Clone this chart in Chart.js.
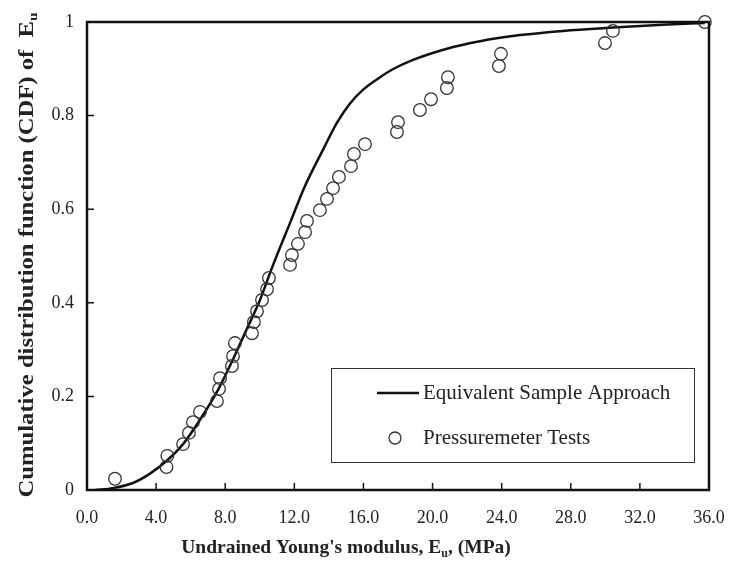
<!DOCTYPE html>
<html>
<head>
<meta charset="utf-8">
<script src="https://cdn.jsdelivr.net/npm/chart.js@4"></script>
<style>
    html, body { margin: 0; padding: 0; background: #fff; }
    #wrap { width: 731px; height: 565px; }
</style>
</head>
<body>
<div id="wrap"><canvas id="cdfChart" width="731" height="565"></canvas></div>
<script>
// Equivalent Sample Approach (curve)
const esaX = [0.5, 1.5, 2.66, 3.65, 4.63, 5.56, 6.54, 7.6, 8.5, 9.2, 10.0, 10.76, 11.8, 12.56, 13.7, 14.47, 15.2, 16.0, 16.96, 17.7, 18.87, 20.83, 22.74, 25.06, 27.55, 30.44, 33.33, 35.76];
const esaY = [0, 0.004, 0.015, 0.035, 0.063, 0.098, 0.15, 0.215, 0.283, 0.34, 0.405, 0.48, 0.575, 0.645, 0.73, 0.785, 0.825, 0.856, 0.882, 0.899, 0.919, 0.943, 0.959, 0.972, 0.981, 0.988, 0.994, 0.998];

// Pressuremeter tests (circles)
const pmtX = [1.62, 4.6, 4.65, 5.56, 5.9, 6.13, 6.54, 7.52, 7.64, 7.7, 8.39, 8.45, 8.56, 9.55, 9.66, 9.84, 10.13, 10.42, 10.53, 11.75, 11.86, 12.21, 12.62, 12.73, 13.48, 13.89, 14.24, 14.58, 15.28, 15.45, 16.09, 17.94, 18.0, 19.27, 19.91, 20.83, 20.89, 23.84, 23.96, 29.98, 30.44, 35.76];
const pmtY = [0.024, 0.049, 0.073, 0.098, 0.122, 0.145, 0.167, 0.19, 0.216, 0.239, 0.265, 0.286, 0.314, 0.335, 0.359, 0.382, 0.406, 0.429, 0.453, 0.481, 0.502, 0.526, 0.551, 0.575, 0.598, 0.622, 0.645, 0.669, 0.692, 0.718, 0.739, 0.765, 0.786, 0.812, 0.835, 0.859, 0.882, 0.906, 0.932, 0.955, 0.981, 1.0];

const serif = '"Liberation Serif", "Times New Roman", serif';

// рамка, внутренние засечки, подписи осей и легенда
const decorPlugin = {
    id: 'decor',
    afterDraw(chart) {
        const ctx = chart.ctx;
        const area = chart.chartArea;
        const xs = chart.scales.x;
        const ys = chart.scales.y;
        ctx.save();

        // рамка
        ctx.strokeStyle = '#111';
        ctx.lineWidth = 2.5;
        ctx.strokeRect(area.left, area.top, area.right - area.left, area.bottom - area.top);

        // засечки внутрь
        ctx.lineWidth = 1.5;
        ctx.beginPath();
        xs.ticks.forEach(t => {
            const px = xs.getPixelForValue(t.value);
            ctx.moveTo(px, area.bottom);
            ctx.lineTo(px, area.bottom - 7);
        });
        ys.ticks.forEach(t => {
            const py = ys.getPixelForValue(t.value);
            ctx.moveTo(area.left, py);
            ctx.lineTo(area.left + 7, py);
        });
        ctx.stroke();

        // подпись оси X
        ctx.fillStyle = '#222';
        ctx.textBaseline = 'middle';
        const xFont = 'bold 19.5px ' + serif;
        const subFont = 'bold 12px ' + serif;
        const xParts = ["Undrained Young's modulus, E", 'u', ', (MPa)'];
        ctx.font = xFont;
        const w0 = ctx.measureText(xParts[0]).width;
        const w2 = ctx.measureText(xParts[2]).width;
        ctx.font = subFont;
        const w1 = ctx.measureText(xParts[1]).width;
        let tx = 346 - (w0 + w1 + w2) / 2;
        const ty = 548;
        ctx.font = xFont;
        ctx.textAlign = 'left';
        ctx.fillText(xParts[0], tx, ty);
        tx += w0;
        ctx.font = subFont;
        ctx.fillText(xParts[1], tx, ty + 6);
        tx += w1;
        ctx.font = xFont;
        ctx.fillText(xParts[2], tx, ty);

        // подпись оси Y (повёрнута)
        const yFont = 'bold 21px ' + serif;
        const ySub = 'bold 13px ' + serif;
        const yParts = ['Cumulative distribution function (CDF) of  E', 'u'];
        ctx.font = yFont;
        const v0 = ctx.measureText(yParts[0]).width;
        ctx.font = ySub;
        const v1 = ctx.measureText(yParts[1]).width;
        const k = 485 / (v0 + v1);
        ctx.save();
        ctx.translate(28, 255);
        ctx.rotate(-Math.PI / 2);
        ctx.scale(k, 1);
        let vx = -(v0 + v1) / 2;
        ctx.font = yFont;
        ctx.fillText(yParts[0], vx, 0);
        vx += v0;
        ctx.font = ySub;
        ctx.fillText(yParts[1], vx, 6);
        ctx.restore();

        // легенда
        const ds = chart.data.datasets;
        ctx.strokeStyle = '#333';
        ctx.lineWidth = 1;
        ctx.strokeRect(331.5, 368.5, 363, 94);
        ctx.font = '21px ' + serif;
        ctx.fillStyle = '#222';
        ctx.textAlign = 'left';
        ctx.strokeStyle = '#111';
        ctx.lineWidth = 2.5;
        ctx.beginPath();
        ctx.moveTo(377, 393);
        ctx.lineTo(419, 393);
        ctx.stroke();
        ctx.fillText(ds[0].label, 423, 393);
        ctx.strokeStyle = '#333';
        ctx.lineWidth = 1.3;
        ctx.beginPath();
        ctx.arc(395, 438, 6, 0, Math.PI * 2);
        ctx.stroke();
        ctx.fillText(ds[1].label, 423, 438);

        ctx.restore();
    }
};

const esaData = esaX.map((x, i) => ({ x: x, y: esaY[i] }));
const pmtData = pmtX.map((x, i) => ({ x: x, y: pmtY[i] }));

const chartConfig = {
    type: 'scatter',
    data: {
        datasets: [
            {
                type: 'line',
                label: 'Equivalent Sample Approach',
                data: esaData,
                borderColor: '#111',
                borderWidth: 2.5,
                pointRadius: 0,
                fill: false,
                cubicInterpolationMode: 'monotone',
                order: 2,
            },
            {
                label: 'Pressuremeter Tests',
                data: pmtData,
                pointStyle: 'circle',
                pointRadius: 6.3,
                pointBorderWidth: 1.3,
                pointBorderColor: '#333',
                pointBackgroundColor: 'rgba(255,255,255,0)',
                showLine: false,
                clip: false,
                order: 1,
            }
        ]
    },
    options: {
        responsive: false,
        animation: false,
        layout: {
            padding: { top: 22, right: 22, left: 0, bottom: 0 }
        },
        plugins: {
            legend: { display: false },
            tooltip: { enabled: false },
        },
        scales: {
            x: {
                type: 'linear',
                min: 0,
                max: 36,
                grid: { display: false, drawTicks: false },
                border: { display: false },
                ticks: {
                    stepSize: 4,
                    padding: 17,
                    color: '#222',
                    font: { family: serif, size: 18 },
                    callback: v => v.toFixed(1),
                },
                afterFit(scale) {
                    scale.height = 75;
                    scale.paddingLeft = 0;
                    scale.paddingRight = 0;
                },
            },
            y: {
                min: 0,
                max: 1,
                grid: { display: false, drawTicks: false },
                border: { display: false },
                ticks: {
                    stepSize: 0.2,
                    padding: 13,
                    color: '#222',
                    font: { family: serif, size: 18 },
                    callback: v => (v === 0 || v === 1) ? String(v) : v.toFixed(1),
                },
                afterFit(scale) {
                    scale.width = 87;
                    scale.paddingTop = 0;
                    scale.paddingBottom = 0;
                },
            }
        }
    },
    plugins: [decorPlugin],
};

new Chart(document.getElementById('cdfChart'), chartConfig);
</script>
</body>
</html>
